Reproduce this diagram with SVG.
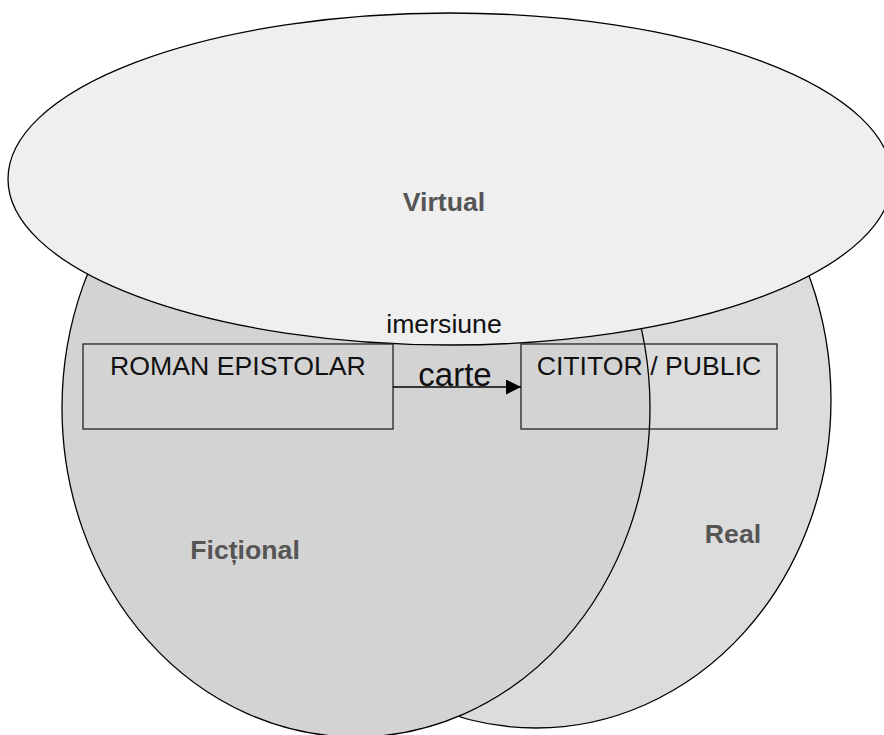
<svg xmlns="http://www.w3.org/2000/svg" width="884" height="735" viewBox="0 0 884 735">
  <style>
    .area { stroke: #000; stroke-width: 1.3; }
    .box { fill: none; stroke: #222; stroke-width: 1.3; }
    .label { font-family: "Liberation Sans", Arial, sans-serif; font-size: 26.67px; font-weight: bold; fill: #555; text-anchor: middle; }
    .txt { font-family: "Liberation Sans", Arial, sans-serif; font-size: 26.67px; fill: #111; text-anchor: middle; }
    .link { stroke: #000; stroke-width: 1.3; fill: none; }
  </style>
  <defs>
    <marker id="arrow" markerUnits="userSpaceOnUse" viewBox="0 0 15 15" refX="15" refY="7.5" markerWidth="15" markerHeight="15" orient="auto">
      <path d="M0,0 L15,7.5 L0,15 Z" fill="#000"/>
    </marker>
  </defs>

  <rect width="884" height="735" fill="#fff"/>

  <!-- sets, back to front -->
  <g id="real">
    <ellipse class="area" cx="536" cy="400" rx="295" ry="328" fill="#dcdcdc"/>
    <text class="label" x="733" y="543">Real</text>
  </g>
  <g id="fictional">
    <ellipse class="area" cx="356" cy="408" rx="294" ry="329" fill="#d3d3d3"/>
    <text class="label" x="245" y="559">Ficțional</text>
  </g>
  <g id="virtual">
    <ellipse class="area" cx="450" cy="179" rx="442" ry="166" fill="#efefef"/>
    <text class="label" x="444" y="211">Virtual</text>
  </g>
  <g id="imersiune">
    <text class="txt" x="444" y="333">imersiune</text>
  </g>

  <!-- boxes -->
  <g id="roman-epistolar">
    <rect class="box" x="83" y="344" width="310" height="85"/>
    <text class="txt" x="238" y="375">ROMAN EPISTOLAR</text>
  </g>
  <g id="cititor-public">
    <rect class="box" x="521" y="344" width="256" height="85"/>
    <text class="txt" x="649" y="375">CITITOR / PUBLIC</text>
  </g>

  <!-- connectors -->
  <g id="connectors">
    <path class="link" d="M393,387 L521,387" marker-end="url(#arrow)"/>
    <text x="455" y="386" font-family="'Liberation Sans', Arial, sans-serif" font-size="33px" fill="#111" text-anchor="middle">carte</text>
  </g>
</svg>
